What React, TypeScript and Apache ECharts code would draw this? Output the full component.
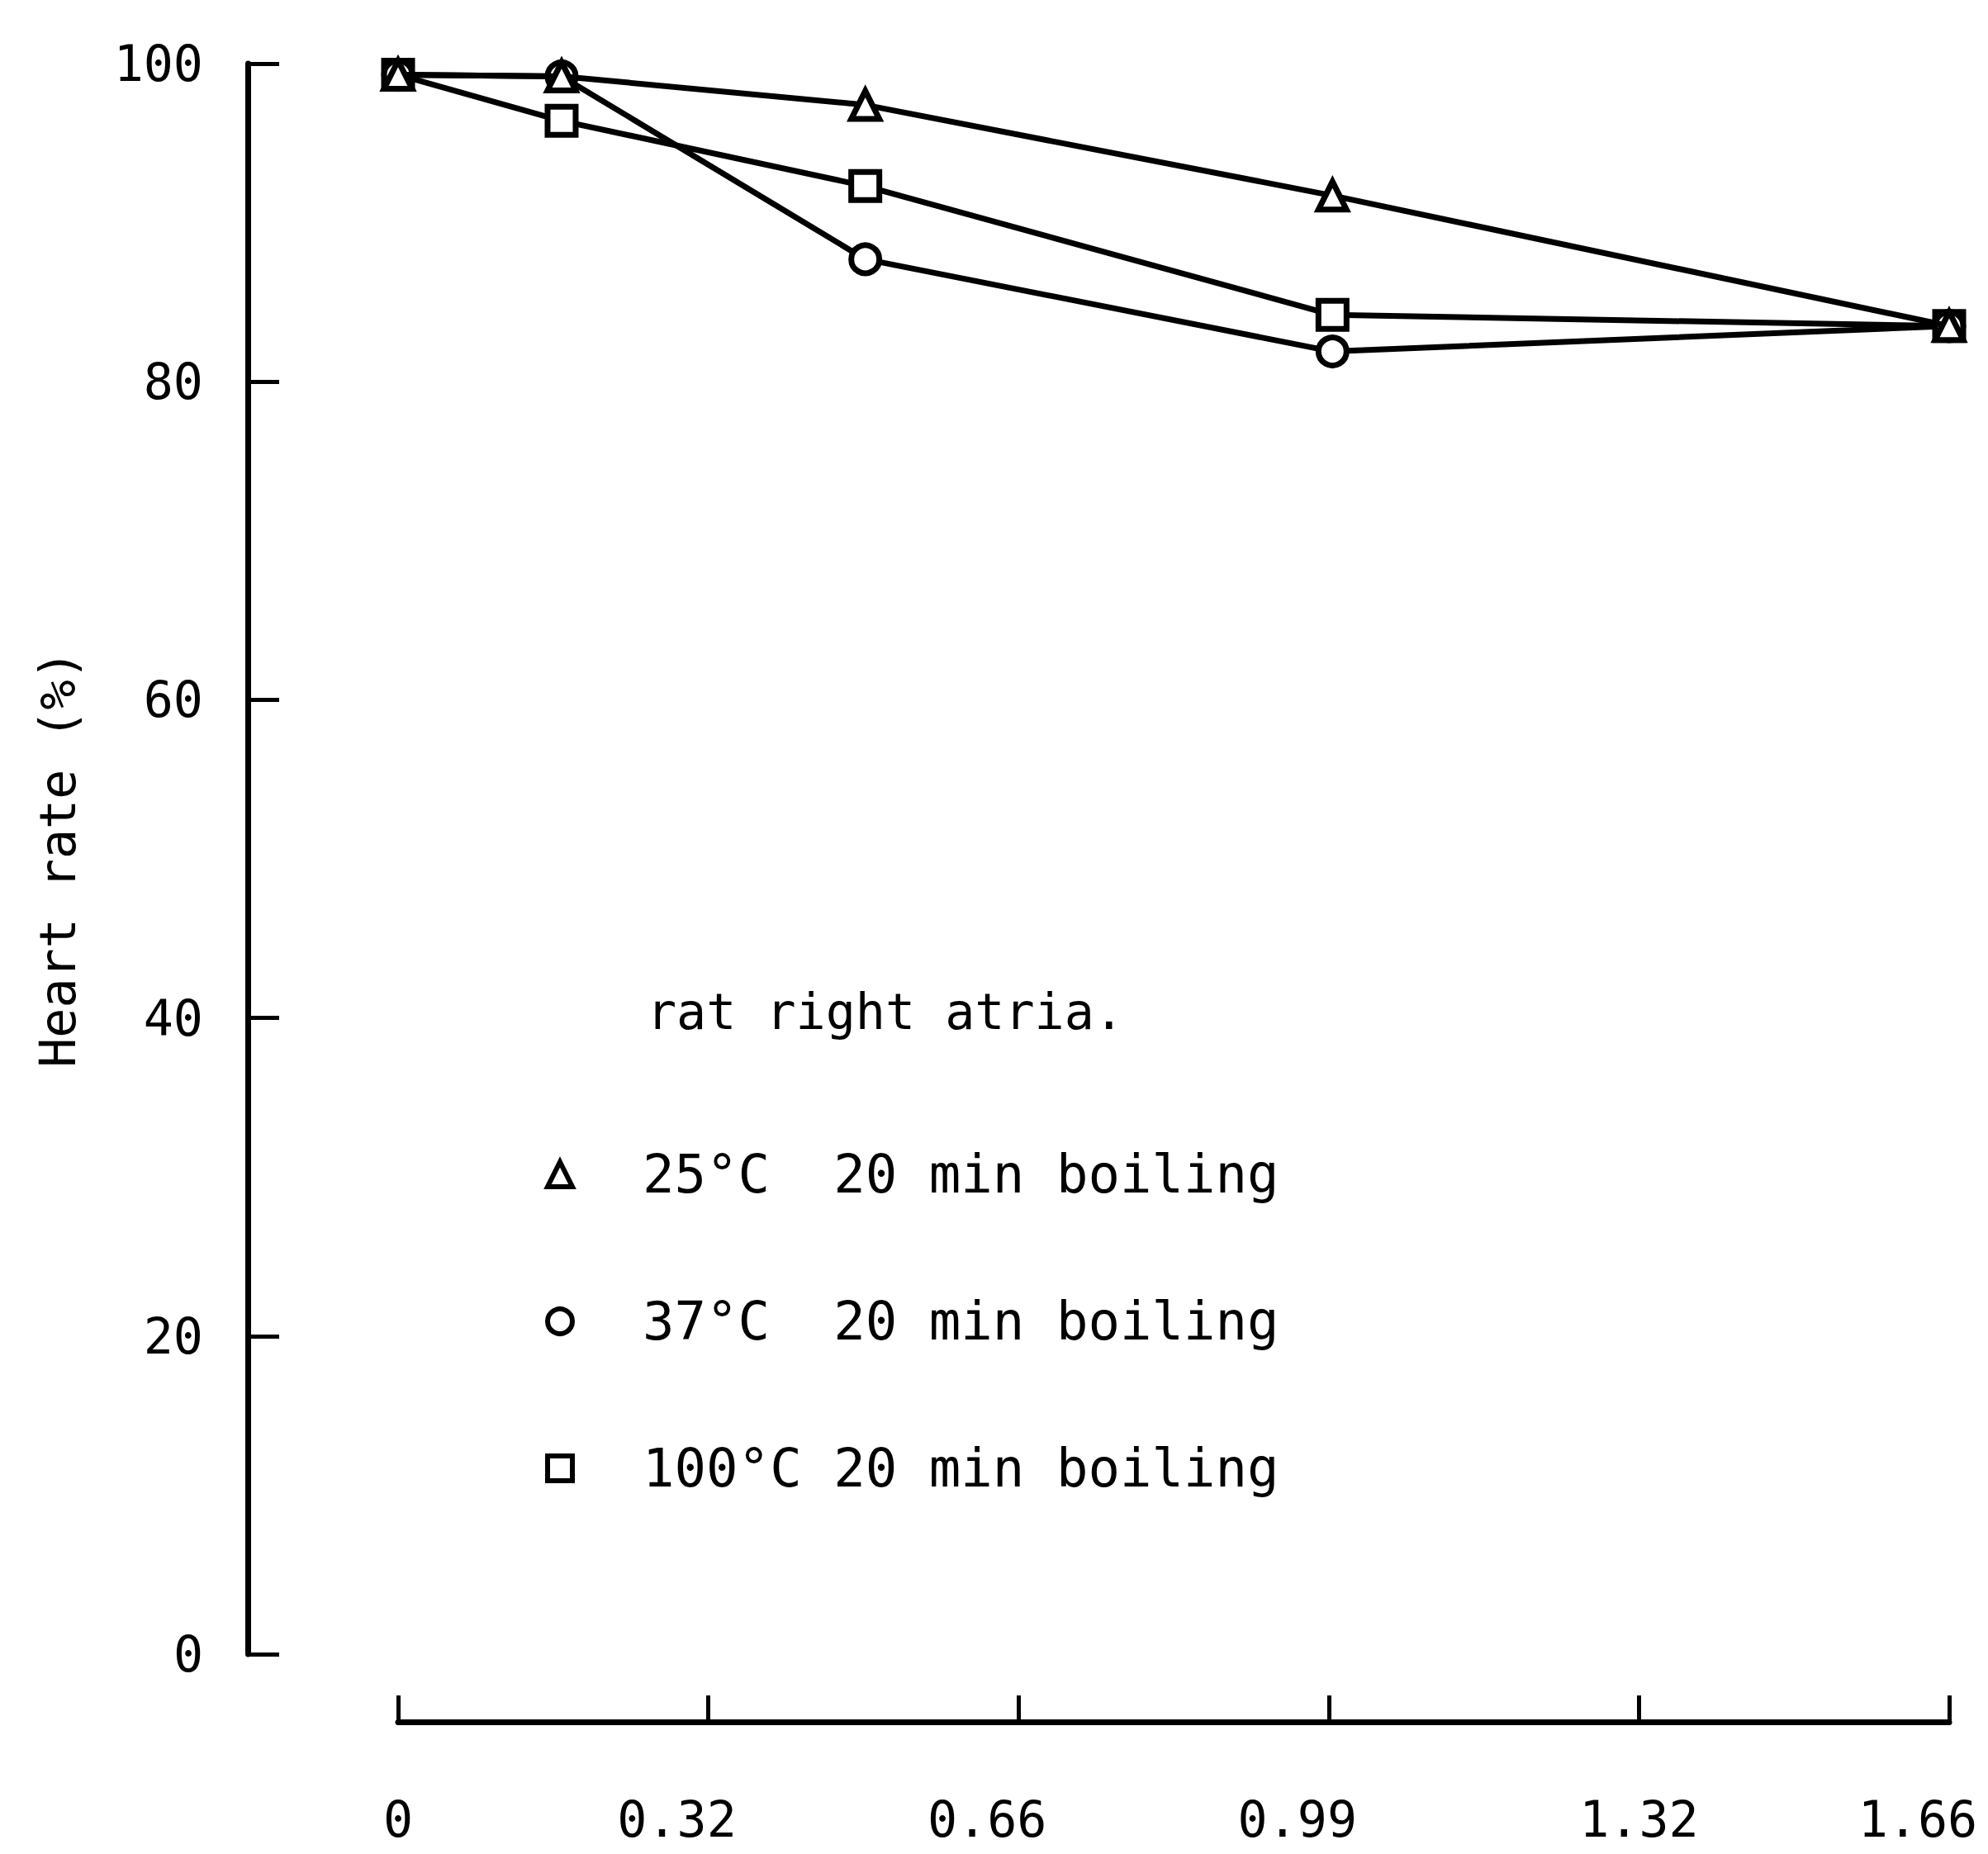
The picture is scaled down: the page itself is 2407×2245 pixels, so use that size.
import React, { useEffect, useRef } from "react";
import * as echarts from "echarts";

const xValues = [0, 0.175, 0.5, 1.0, 1.66];
const tri25 = [99.3, 99.2, 97.4, 91.7, 83.5];
const circ37 = [99.3, 99.2, 87.7, 81.9, 83.5];
const sq100 = [99.3, 96.4, 92.3, 84.2, 83.5];
const xTickLabels = ["0", "0.32", "0.66", "0.99", "1.32", "1.66"];
const seriesNames = ["25°C  20 min boiling", "37°C  20 min boiling", "100°C 20 min boiling"];
const legendTitle = "rat right atria.";
const yAxisTitle = "Heart rate (%)";

const FONT = "'DejaVu Sans Mono', monospace";

export default function App() {
  const ref = useRef<HTMLDivElement>(null);
  useEffect(() => {
    if (!ref.current) return;
    const chart = echarts.init(ref.current, null, { renderer: "svg" });
    const mk = (vals: number[]) => xValues.map((x, i) => [x, vals[i]]);
    const seriesBase = (name: string, symbol: string, vals: number[], z: number) => ({
      name,
      type: "line",
      data: mk(vals),
      symbol,
      symbolSize: 34,
      z,
      lineStyle: { color: "#000", width: 7 },
      itemStyle: { color: "#fff", borderColor: "#000", borderWidth: 7 },
    });
    const shifted = new Set(["0.32", "0.66", "0.99", "1.66"]);
    chart.setOption({
      animation: false,
      backgroundColor: "#fff",
      grid: { left: 482, right: 47, top: 77, bottom: 242, containLabel: false, outerBoundsMode: "none" },
      xAxis: {
        type: "value",
        min: 0,
        max: 1.66,
        interval: 0.332,
        offset: 82,
        splitLine: { show: false },
        axisLine: { onZero: false, lineStyle: { color: "#000", width: 7 } },
        axisTick: { inside: true, length: 32, lineStyle: { color: "#000", width: 5 } },
        axisLabel: {
          margin: 88,
          fontFamily: FONT,
          fontSize: 60,
          color: "#000",
          formatter: (v: number) => {
            const t = xTickLabels[Math.round(v / 0.332)] ?? "";
            return shifted.has(t) ? `{s|${t}}` : `{n|${t}}`;
          },
          rich: {
            s: { fontFamily: FONT, fontSize: 60, color: "#000", padding: [0, 76, 0, 0] },
            n: { fontFamily: FONT, fontSize: 60, color: "#000" },
          },
        },
      },
      yAxis: {
        type: "value",
        min: 0,
        max: 100,
        interval: 20,
        offset: 182,
        splitLine: { show: false },
        axisLine: { onZero: false, lineStyle: { color: "#000", width: 7 } },
        axisTick: { inside: true, length: 38, lineStyle: { color: "#000", width: 5 } },
        axisLabel: { margin: 54, fontFamily: FONT, fontSize: 60, color: "#000" },
        name: yAxisTitle,
        nameLocation: "middle",
        nameGap: 200,
        nameTextStyle: { fontFamily: FONT, fontSize: 60, color: "#000" },
      },
      legend: {
        orient: "vertical",
        left: 655,
        top: 1385,
        itemWidth: 30,
        itemHeight: 30,
        itemGap: 114,
        itemStyle: { color: "#fff", borderColor: "#000", borderWidth: 6 },
        textStyle: { fontFamily: FONT, fontSize: 64, color: "#000", padding: [0, 0, 0, 80] },
        data: [
          { name: seriesNames[0], icon: "triangle" },
          { name: seriesNames[1], icon: "circle" },
          { name: seriesNames[2], icon: "rect" },
        ],
      },
      graphic: [
        {
          type: "text",
          left: 783,
          top: 1195,
          style: { text: legendTitle, fontFamily: FONT, fontSize: 60, fill: "#000" },
        },
      ],
      series: [
        seriesBase(seriesNames[2], "rect", sq100, 2),
        seriesBase(seriesNames[1], "circle", circ37, 3),
        seriesBase(seriesNames[0], "triangle", tri25, 4),
      ],
    });
    return () => chart.dispose();
  }, []);
  return (
    <div
      ref={ref}
      style={{ position: "absolute", left: 0, top: 0, width: 2407, height: 2245 }}
    />
  );
}
